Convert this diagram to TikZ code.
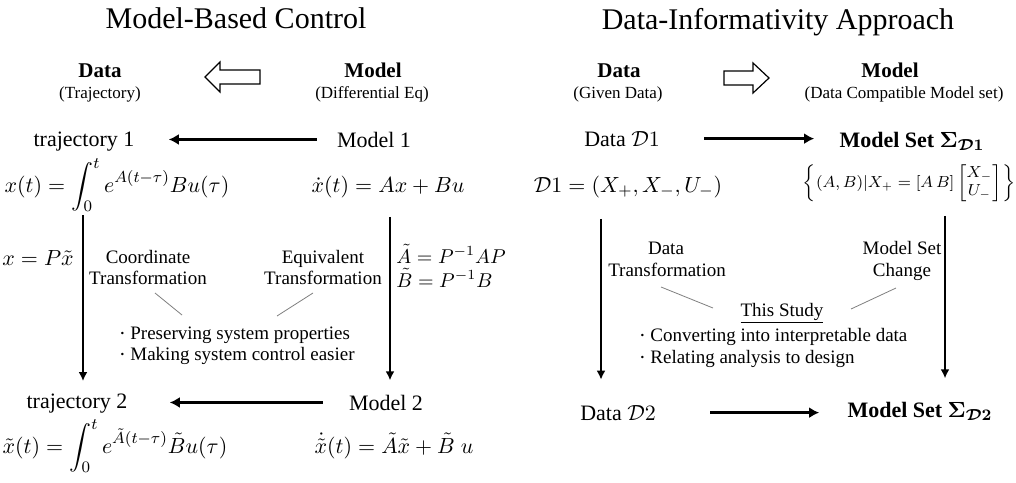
\documentclass[tikz,border=0pt]{standalone}
\usepackage{fontspec}
\setmainfont{Liberation Serif}
\usepackage{amsmath}
\usepackage{bm}
\usetikzlibrary{arrows.meta}
\newcommand{\bul}{\makebox[8pt][c]{\large$\cdot$}}

\begin{document}
\begin{tikzpicture}[%
      x=0.5pt, y=-0.5pt,
      ttl/.style={anchor=base, inner sep=0pt, font=\fontsize{15}{18}\selectfont},
      hdr/.style={anchor=base, inner sep=0pt, font=\fontsize{10.5}{12}\selectfont\bfseries},
      sub/.style={anchor=base, inner sep=0pt, font=\fontsize{8.5}{10}\selectfont},
      txt/.style={anchor=base, inner sep=0pt, font=\fontsize{11}{13}\selectfont},
      note/.style={anchor=base, inner sep=0pt, font=\fontsize{9.5}{11}\selectfont},
      flow/.style={line width=1.6pt, -{Latex[length=5pt,width=5.5pt]}},
      down/.style={line width=1.1pt, -{Latex[length=4.5pt,width=4.5pt]}},
      hollow/.style={line width=0.6pt, line join=miter},
      pointer/.style={color=gray, line width=0.4pt},
      ]
      \useasboundingbox [fill=white] (0,0) rectangle (1016,482);

      \node [ttl] (titleL) at (236,28) {Model-Based Control};
      \node [ttl] (titleR) at (778,29) {Data-Informativity Approach};

      \node [hdr] (dataL) at (100,77) {Data};
      \node [sub] (dataLs) at (100,98) {(Trajectory)};
      \node [hdr] (modelL) at (373,77) {Model};
      \node [sub] (modelLs) at (372,98) {(Differential Eq)};
      \node [hdr] (dataR) at (619,77) {Data};
      \node [sub] (dataRs) at (618,98) {(Given Data)};
      \node [hdr] (modelR) at (890,77) {Model};
      \node [sub] (modelRs) at (904,98) {(Data Compatible Model set)};

      \draw [hollow] (205,77) -- (220,62) -- (220,70) -- (260,70) -- (260,84)
            -- (220,84) -- (220,92) -- cycle;
      \draw [hollow] (724,71) -- (753,71) -- (753,63) -- (769,78) -- (753,93)
            -- (753,85) -- (724,85) -- cycle;

      \node [txt] (traj1) at (84,146) {trajectory 1};
      \node [txt] (model1) at (374,147) {Model 1};
      \node [txt] (eqa) at (117,192) {$x(t) = \displaystyle\int_0^t e^{A(t-\tau)}Bu(\tau)$};
      \node [txt] (eqb) at (388,192) {$\dot{x}(t) = Ax + Bu$};

      \node [txt] (xp) at (38,265) {$x = P\tilde{x}$};
      \node [note] (coord) at (148,263) {Coordinate};
      \node [note] (ctrans) at (148,284) {Transformation};
      \node [note] (equiv) at (323,263) {Equivalent};
      \node [note] (etrans) at (323,284) {Transformation};
      \node [txt, font=\fontsize{10}{12}\selectfont, anchor=base west] (at) at (396,263) {$\tilde{A} = P^{-1}AP$};
      \node [txt, font=\fontsize{10}{12}\selectfont, anchor=base west] (bt) at (396,287) {$\tilde{B} = P^{-1}B$};

      \node [note, anchor=base west] (bula) at (114,339) {\bul Preserving system properties};
      \node [note, anchor=base west] (bulb) at (114,360) {\bul Making system control easier};

      \node [txt] (traj2) at (77,408) {trajectory 2};
      \node [txt] (model2) at (386,410) {Model 2};
      \node [txt] (eqc) at (115,453) {$\tilde{x}(t) = \displaystyle\int_0^t e^{\tilde{A}(t-\tau)}\tilde{B}u(\tau)$};
      \node [txt] (eqd) at (394,453) {$\dot{\tilde{x}}(t) = \tilde{A}\tilde{x} + \tilde{B}\;u$};

      \node [txt] (data1) at (622,146) {Data $\mathcal{D}1$};
      \node [txt] (mset1) at (912,147) {\textbf{Model Set} $\bm{\Sigma_{\mathcal{D}1}}$};
      \node [txt] (deq) at (628,192) {$\mathcal{D}1 = (X_+, X_-, U_-)$};
      \node [txt, font=\fontsize{7.7}{9}\selectfont, anchor=center] (seq) at (909,183)
            {$\left\{(A,B)|X_+ = [A\,B]\begin{bmatrix}X_-\\U_-\end{bmatrix}\right\}$};

      \node [note] (dlbl) at (666,254) {Data};
      \node [note] (dtrans) at (667,276) {Transformation};
      \node [note] (mlbl) at (902,254) {Model Set};
      \node [note] (mchg) at (902,276) {Change};
      \node [note] (study) at (782,316) {\underline{This Study}};
      \node [note, anchor=base west] (bulc) at (634,341) {\bul Converting into interpretable data};
      \node [note, anchor=base west] (buld) at (634,363) {\bul Relating analysis to design};

      \node [txt] (data2) at (618,420) {Data $\mathcal{D}2$};
      \node [txt] (mset2) at (920,417) {\textbf{Model Set} $\bm{\Sigma_{\mathcal{D}2}}$};

      \coordinate (colA) at (83,0);
      \coordinate (colB) at (390,0);
      \coordinate (colC) at (601,0);
      \coordinate (colD) at (945,0);

      \draw [flow, shorten <=10pt, shorten >=17pt] (model1.west) -- (model1.west -| traj1.east);
      \draw [flow, shorten <=13pt, shorten >=21pt] (model2.west) -- (model2.west -| traj2.east);
      \draw [flow, shorten <=22pt, shorten >=12.5pt] (data1.east) -- (data1.east -| mset1.west);
      \draw [flow, shorten <=27pt, shorten >=14pt] (data2.east) -- (data2.east -| mset2.west);

      \draw [down, shorten <=1.5pt, shorten >=6pt] (eqa.south -| colA) -- (traj2.north -| colA);
      \draw [down, shorten <=9.5pt, shorten >=7pt] (eqb.south -| colB) -- (model2.north -| colB);
      \draw [down, shorten <=10.5pt, shorten >=12.5pt] (deq.south -| colC) -- (data2.north -| colC);
      \draw [down, shorten <=7pt, shorten >=11.5pt] (seq.south -| colD) -- (mset2.north -| colD);

      \coordinate (pa1) at (155,293);
      \coordinate (pa2) at (182,315);
      \coordinate (pb1) at (313,293);
      \coordinate (pb2) at (277,316);
      \coordinate (pc1) at (661,287);
      \coordinate (pc2) at (713,308);
      \coordinate (pd1) at (896,288);
      \coordinate (pd2) at (851,309);
      \draw [pointer] (pa1) -- (pa2);
      \draw [pointer] (pb1) -- (pb2);
      \draw [pointer] (pc1) -- (pc2);
      \draw [pointer] (pd1) -- (pd2);
      \end{tikzpicture}
\end{document}
